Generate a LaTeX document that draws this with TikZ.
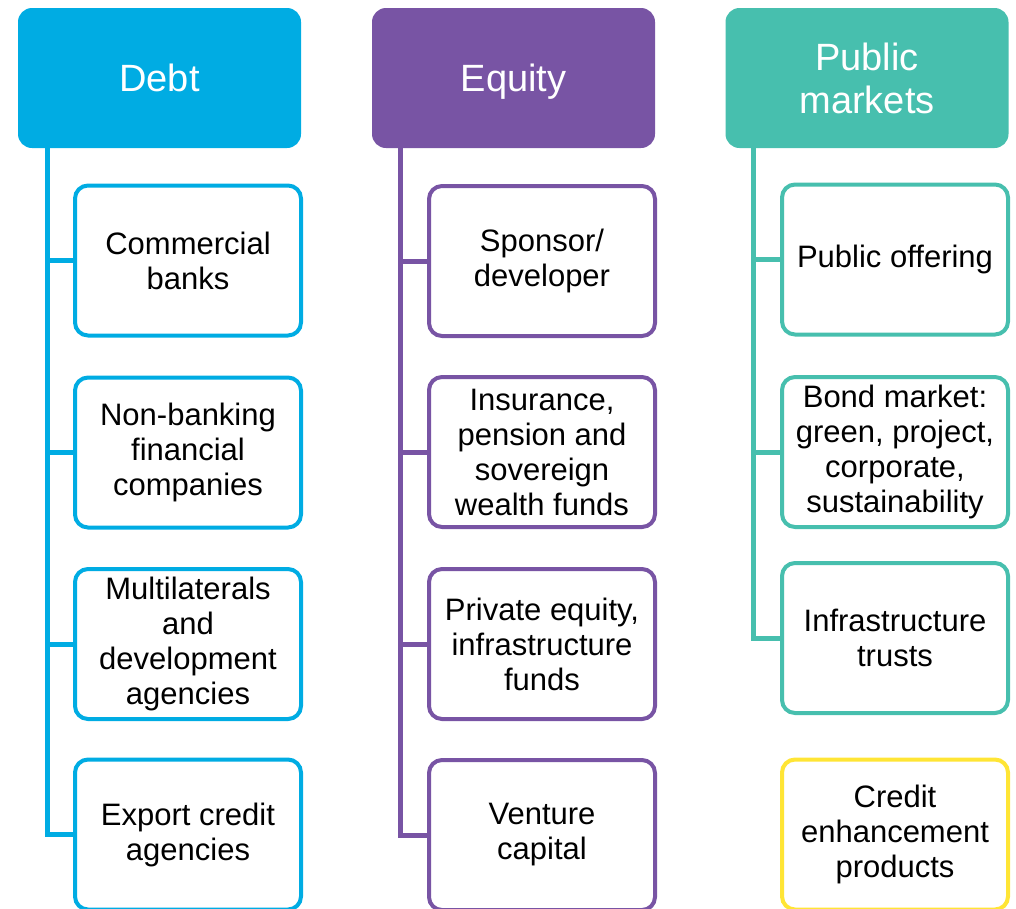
\documentclass[tikz,border=0pt]{standalone}
\usepackage{fontspec}
\setmainfont{Liberation Sans}
\definecolor{cdebt}{HTML}{00ACE3}
\definecolor{cequity}{HTML}{7854A4}
\definecolor{cpublic}{HTML}{47BFAE}
\definecolor{cyel}{HTML}{FFE535}
\begin{document}
\begin{tikzpicture}[x=1pt,y=-1pt,
  head/.style={fill=#1, draw=none, rounded corners=14pt, minimum width=283pt, minimum height=140pt,
    text=white, align=center, inner sep=0pt, font=\fontsize{38}{43}\selectfont},
  item/.style={draw=#1, line width=4pt, fill=white, rounded corners=13pt, minimum width=226pt,
    minimum height=150pt, align=center, inner sep=0pt, font=\fontsize{31}{35}\selectfont},
  link/.style={draw=#1, line width=5pt}]
\useasboundingbox (0,0) rectangle (1016,908);
% Debt
\node[head=cdebt] (debt) at (159.5,78) {Debt};
\node[item=cdebt] (d1) at (188,260.5) {Commercial\\banks};
\node[item=cdebt] (d2) at (188,452.5) {Non-banking\\financial\\companies};
\node[item=cdebt] (d3) at (188,644) {Multilaterals\\and\\development\\agencies};
\node[item=cdebt] (d4) at (188,834.5) {Export credit\\agencies};
\coordinate (dt) at (47,148);
\draw[link=cdebt] (dt) |- (d4.west);
\draw[link=cdebt] (d1.west -| dt) -- (d1.west);
\draw[link=cdebt] (d2.west -| dt) -- (d2.west);
\draw[link=cdebt] (d3.west -| dt) -- (d3.west);
% Equity
\node[head=cequity, text depth=0pt] (eq) at (513.5,78) {Equity};
\node[item=cequity] (e1) at (542,261) {Sponsor/\\developer};
\node[item=cequity] (e2) at (542,452) {Insurance,\\pension and\\sovereign\\wealth funds};
\node[item=cequity] (e3) at (542,644) {Private equity,\\infrastructure\\funds};
\node[item=cequity] (e4) at (542,835) {Venture\\capital};
\coordinate (et) at (400,148);
\draw[link=cequity] (et) |- (e4.west);
\draw[link=cequity] (e1.west -| et) -- (e1.west);
\draw[link=cequity] (e2.west -| et) -- (e2.west);
\draw[link=cequity] (e3.west -| et) -- (e3.west);
% Public markets
\node[head=cpublic] (pm) at (867,78) {Public\\markets};
\node[item=cpublic] (p1) at (895,259.5) {Public offering};
\node[item=cpublic] (p2) at (895,452) {Bond market:\\green, project,\\corporate,\\sustainability};
\node[item=cpublic] (p3) at (895,638) {Infrastructure\\trusts};
\node[item=cyel] (p4) at (895,834.5) {Credit\\enhancement\\products};
\coordinate (pt) at (753,148);
\draw[link=cpublic] (pt) |- (p3.west);
\draw[link=cpublic] (p1.west -| pt) -- (p1.west);
\draw[link=cpublic] (p2.west -| pt) -- (p2.west);
\end{tikzpicture}
\end{document}
